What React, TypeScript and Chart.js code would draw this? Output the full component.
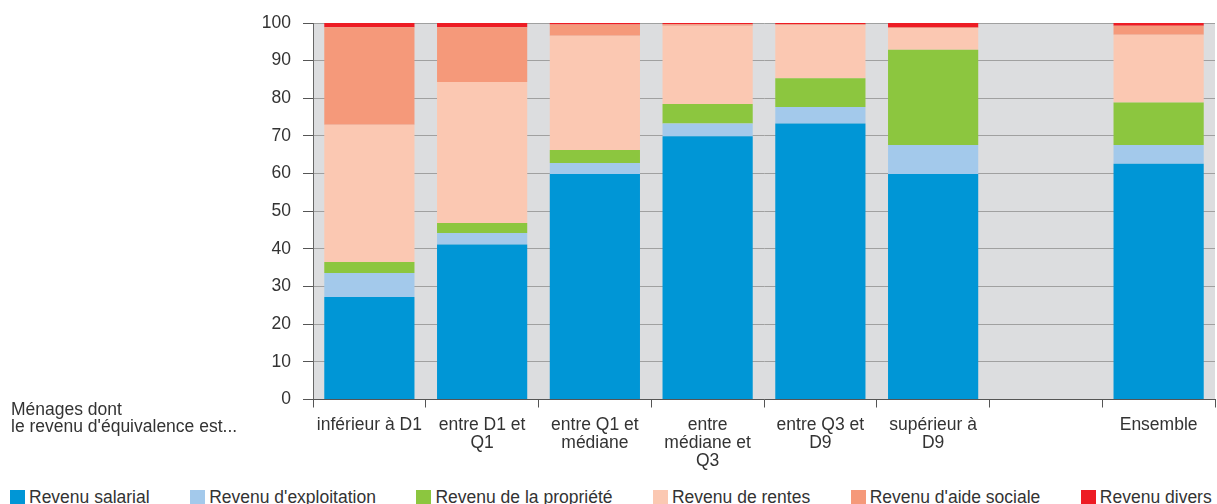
import React, { useEffect, useRef } from "react";
import { Chart, registerables } from "chart.js";

Chart.register(...registerables);

// Household groups by equivalised income (one empty slot before the total)
const categories: (string | string[])[] = [
  "inférieur à D1",
  ["entre D1 et", "Q1"],
  ["entre Q1 et", "médiane"],
  ["entre", "médiane et", "Q3"],
  ["entre Q3 et", "D9"],
  ["supérieur à", "D9"],
  "",
  "Ensemble",
];

// Share of each income source, in %
const revenuSalarial = [27.2, 41.2, 59.9, 69.9, 73.3, 59.9, null, 62.6];
const revenuExploitation = [6.4, 3.0, 2.9, 3.4, 4.4, 7.7, null, 5.0];
const revenuPropriete = [2.9, 2.7, 3.5, 5.2, 7.6, 25.3, null, 11.3];
const revenuRentes = [36.5, 37.4, 30.3, 20.8, 14.1, 5.8, null, 18.0];
const revenuAideSociale = [25.9, 14.6, 3.0, 0.4, 0.3, 0.1, null, 2.4];
const revenuDivers = [1.1, 1.1, 0.4, 0.3, 0.3, 1.2, null, 0.7];

const seriesNames = [
  "Revenu salarial",
  "Revenu d'exploitation",
  "Revenu de la propriété",
  "Revenu de rentes",
  "Revenu d'aide sociale",
  "Revenu divers",
];
const seriesColors = ["#0096d6", "#a3c9eb", "#8cc63f", "#fbc8b2", "#f5997a", "#ed1c24"];
const seriesValues = [
  revenuSalarial,
  revenuExploitation,
  revenuPropriete,
  revenuRentes,
  revenuAideSociale,
  revenuDivers,
];

const yTicks = [0, 10, 20, 30, 40, 50, 60, 70, 80, 90, 100];

const FONT = "'Liberation Sans', Arial, Helvetica, sans-serif";
const TEXT = "#333333";

const plotBackground = {
  id: "plotBackground",
  beforeDraw(chart: any) {
    const { ctx, chartArea } = chart;
    ctx.save();
    ctx.fillStyle = "#dcdddf";
    ctx.fillRect(chartArea.left, chartArea.top, chartArea.right - chartArea.left, chartArea.bottom - chartArea.top);
    ctx.restore();
  },
};

export default function App() {
  const canvasRef = useRef<HTMLCanvasElement | null>(null);

  useEffect(() => {
    document.body.style.margin = "0";
    const canvas = canvasRef.current;
    if (!canvas) return;
    const chart = new Chart(canvas, {
      type: "bar",
      data: {
        labels: categories,
        datasets: seriesValues.map((values, i) => ({
          label: seriesNames[i],
          data: values,
          backgroundColor: seriesColors[i],
          borderWidth: 0,
          barPercentage: 0.8,
          categoryPercentage: 1,
        })),
      },
      options: {
        responsive: false,
        animation: false,
        layout: { padding: { top: 23, right: 2, bottom: 0, left: 0 } },
        plugins: {
          legend: { display: false },
          tooltip: { enabled: false },
        },
        scales: {
          x: {
            stacked: true,
            offset: true,
            grid: {
              offset: true,
              drawOnChartArea: false,
              drawTicks: true,
              tickLength: 8,
              tickColor: "#555555",
            },
            border: { display: true, color: "#555555", width: 1, z: 1 },
            ticks: {
              autoSkip: false,
              maxRotation: 0,
              minRotation: 0,
              padding: 9,
              color: TEXT,
              font: { family: FONT, size: 17.5, lineHeight: 1.01 },
            },
            afterFit(scale: any) {
              scale.height = 80.5;
            },
          },
          y: {
            stacked: true,
            min: 0,
            max: 100,
            afterBuildTicks(scale: any) {
              scale.ticks = yTicks.map((v) => ({ value: v }));
            },
            grid: {
              color: "#a0a0a0",
              lineWidth: 1,
              tickLength: 10,
              tickColor: "#555555",
            },
            border: { display: true, color: "#666666", width: 1 },
            ticks: {
              padding: 12,
              color: TEXT,
              font: { family: FONT, size: 17.5 },
            },
            afterFit(scale: any) {
              scale.width = 313;
            },
          },
        },
      },
      plugins: [plotBackground],
    });
    return () => chart.destroy();
  }, []);

  return (
    <div
      style={{
        position: "relative",
        width: 1217,
        height: 504,
        overflow: "hidden",
        background: "#ffffff",
        fontFamily: FONT,
        color: TEXT,
      }}
    >
      <canvas
        ref={canvasRef}
        width={1217}
        height={480}
        style={{ position: "absolute", left: 0, top: 0, display: "block" }}
      />
      <div
        style={{
          position: "absolute",
          left: 11,
          top: 400.5,
          fontSize: 17.5,
          lineHeight: "17px",
          whiteSpace: "nowrap",
        }}
      >
        <div>Ménages dont</div>
        <div>le revenu d'équivalence est...</div>
      </div>
      <div
        style={{
          position: "absolute",
          left: 10,
          top: 489,
          display: "flex",
          gap: 40.5,
          fontSize: 17.5,
          lineHeight: "17px",
          whiteSpace: "nowrap",
        }}
      >
        {seriesNames.map((name, i) => (
          <div key={name} style={{ display: "flex", alignItems: "flex-start" }}>
            <span
              style={{
                display: "inline-block",
                width: 15,
                height: 15,
                marginTop: 1,
                marginRight: 4,
                background: seriesColors[i],
              }}
            />
            <span>{name}</span>
          </div>
        ))}
      </div>
    </div>
  );
}
